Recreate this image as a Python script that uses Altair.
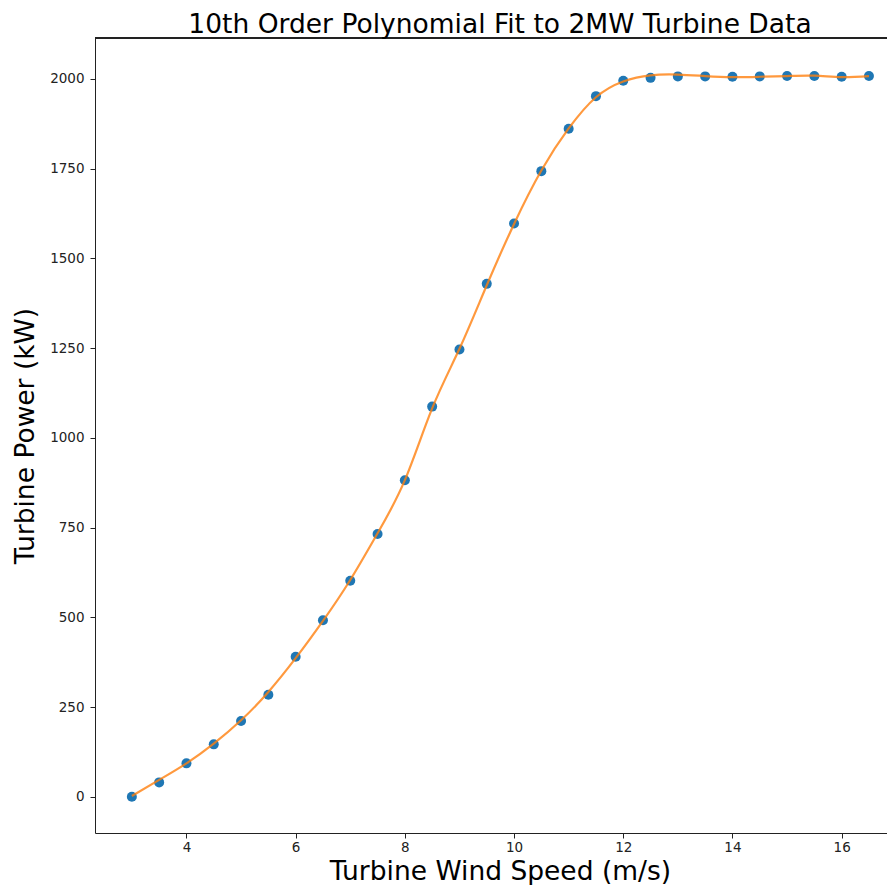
import altair as alt
import pandas as pd

# Data
wind_speed = [3.0, 3.5, 4.0, 4.5, 5.0, 5.5, 6.0, 6.5, 7.0, 7.5, 8.0, 8.5, 9.0, 9.5,
              10.0, 10.5, 11.0, 11.5, 12.0, 12.5, 13.0, 13.5, 14.0, 14.5, 15.0, 15.5, 16.0, 16.5]
power_kw = [0, 40, 93, 146, 211, 284, 390, 492, 602, 732, 882, 1087, 1246, 1429,
            1597, 1743, 1861, 1952, 1995, 2003, 2007, 2007, 2006, 2007, 2008, 2008, 2006, 2008]
fit_kw = [2, 47, 93, 148, 213, 292, 386, 490, 604, 734, 882, 1082, 1248, 1425,
          1596, 1745, 1862, 1949, 1993, 2010, 2012, 2008, 2005, 2006, 2008, 2009, 2005, 2008]

x_ticks = [4, 6, 8, 10, 12, 14, 16]
y_ticks = [0, 250, 500, 750, 1000, 1250, 1500, 1750, 2000]
title_text = ["10th Order Polynomial Fit to 2MW Turbine Data"]

df = pd.DataFrame({"speed": wind_speed, "power": power_kw, "fit": fit_kw})
title_df = pd.DataFrame({"t": title_text})

W, H = 792, 795
FONT = "DejaVu Sans"

x_scale = alt.Scale(domain=[2.325, 2.325 + W / 54.6], nice=False, zero=False)
y_scale = alt.Scale(domain=[-101, 2114], nice=False, zero=False)

x_axis = alt.Axis(
    values=x_ticks, format="d", grid=False,
    title="Turbine Wind Speed (m/s)",
    labelFont=FONT, labelFontSize=13.5, labelColor="#222", labelPadding=2.5,
    tickSize=5, tickColor="#222", domainColor="#222",
    titleFont=FONT, titleFontSize=26.5, titleFontWeight="normal", titleColor="black",
    titleBaseline="alphabetic", titleAlign="center", titleX=405, titleY=46,
)
y_axis = alt.Axis(
    values=y_ticks, format="d", grid=False,
    title="Turbine Power (kW)",
    labelFont=FONT, labelFontSize=13.5, labelColor="#222", labelPadding=6,
    tickSize=5, tickColor="#222", domainColor="#222",
    titleFont=FONT, titleFontSize=26.5, titleFontWeight="normal", titleColor="black",
    titleBaseline="alphabetic", titleAlign="center", titleAngle=-90,
    titleX=-62, titleY=397.5,
)

base = alt.Chart(df)

points = base.mark_circle(size=100, color="#1f77b4", opacity=1).encode(
    x=alt.X("speed:Q", scale=x_scale, axis=x_axis),
    y=alt.Y("power:Q", scale=y_scale, axis=y_axis),
)

line = base.mark_line(color="#ff7f0e", strokeWidth=2.2, opacity=0.8,
                      interpolate="natural").encode(
    x=alt.X("speed:Q", scale=x_scale),
    y=alt.Y("fit:Q", scale=y_scale),
)

top_border = alt.Chart(df).mark_rule(color="#222", strokeWidth=1).encode(
    x=alt.value(0), x2=alt.value(W), y=alt.value(0)
)

title = alt.Chart(title_df).mark_text(
    font=FONT, fontSize=26.5, color="black", align="center", baseline="alphabetic"
).encode(x=alt.value(405), y=alt.value(-5), text="t:N")

chart = alt.layer(points, line, top_border, title).properties(
    width=W, height=H,
    autosize=alt.AutoSizeParams(type="none"),
    padding={"left": 87, "top": 30, "right": 0, "bottom": 52},
).configure_view(stroke=None)

chart.save("out.html", embed_options={"renderer": "svg", "actions": False})
